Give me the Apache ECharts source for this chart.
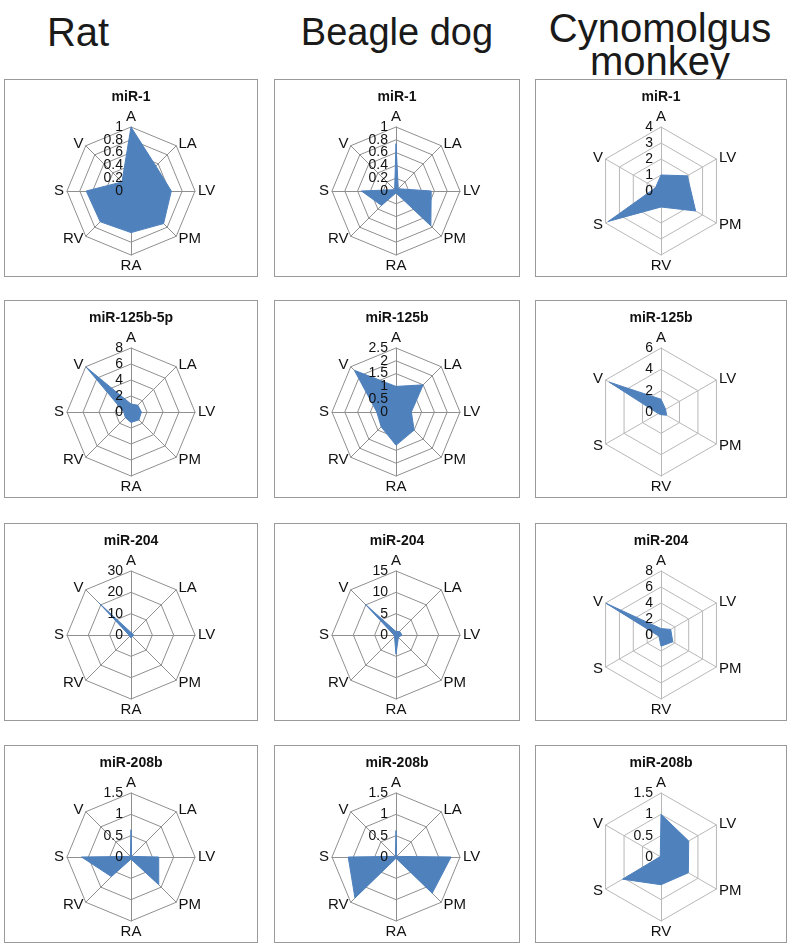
<!DOCTYPE html>
<html><head><meta charset="utf-8">
<script src="https://cdn.jsdelivr.net/npm/echarts@6/dist/echarts.min.js"></script>
<style>
html,body{margin:0;padding:0;background:#fff;width:791px;height:948px;overflow:hidden;font-family:"Liberation Sans",Arial,sans-serif;}
.hdr{position:absolute;font-size:40px;color:#1a1a1a;text-align:center;line-height:36px;}
.box{position:absolute;border:1px solid #9a9a9a;box-sizing:border-box;background:#fff;}
</style></head>
<body>
<div class="hdr" style="left:0;width:156px;top:14px;">Rat</div>
<div class="hdr" style="left:277px;width:240px;top:14px;font-size:38px;">Beagle dog</div>
<div class="hdr" style="left:530px;width:260px;top:12px;line-height:33px;">Cynomolgus<br>monkey</div>
<script>
// Data
const species = ['Rat', 'Beagle dog', 'Cynomolgus monkey'];
const axes8 = ['A', 'LA', 'LV', 'PM', 'RA', 'RV', 'S', 'V'];
const axes6 = ['A', 'LV', 'PM', 'RV', 'S', 'V'];

const ratTitles = ['miR-1', 'miR-125b-5p', 'miR-204', 'miR-208b'];
const dogTitles = ['miR-1', 'miR-125b', 'miR-204', 'miR-208b'];
const monkeyTitles = ['miR-1', 'miR-125b', 'miR-204', 'miR-208b'];

const ratMax = [1, 8, 30, 1.5];
const ratSplit = [5, 4, 3, 3];
const dogMax = [1, 2.5, 15, 1.5];
const dogSplit = [5, 5, 3, 3];
const monkeyMax = [4, 6, 8, 1.5];
const monkeySplit = [4, 3, 4, 3];

// values in clockwise order from top (axes8 / axes6)
const ratMiR1 = [1.0, 0.55, 0.63, 0.72, 0.65, 0.68, 0.70, 0.2];
const ratMiR125 = [1.0, 1.2, 1.3, 1.4, 1.3, 1.0, 0.9, 7.9];
const ratMiR204 = [1.2, 1.0, 1.2, 1.0, 1.3, 1.0, 1.0, 21];
const ratMiR208 = [0.64, 0.02, 0.65, 0.92, 0.05, 0.65, 1.16, 0.02];

const dogMiR1 = [0.74, 0.05, 0.55, 0.77, 0.03, 0.32, 0.54, 0.03];
const dogMiR125 = [1.0, 1.5, 0.6, 1.0, 1.3, 0.82, 0.75, 2.3];
const dogMiR204 = [0.8, 1.2, 1.4, 0.8, 4.5, 0.5, 0.5, 10.2];
const dogMiR208 = [0.62, 0.02, 1.29, 1.2, 0.03, 1.36, 1.12, 0.02];

const monkeyMiR1 = [1.0, 1.9, 2.5, 1.0, 3.8, 0.4];
const monkeyMiR125 = [1.2, 0.5, 0.6, 0.25, 0.3, 5.6];
const monkeyMiR204 = [0.8, 1.4, 1.7, 1.4, 0.3, 7.9];
const monkeyMiR208 = [1.0, 0.75, 0.74, 0.65, 1.04, 0.02];

const ratValues = [ratMiR1, ratMiR125, ratMiR204, ratMiR208];
const dogValues = [dogMiR1, dogMiR125, dogMiR204, dogMiR208];
const monkeyValues = [monkeyMiR1, monkeyMiR125, monkeyMiR204, monkeyMiR208];

// Layout
const colX = [4, 274, 535];
const colW = [254, 246, 252];
const rowY = [79, 300, 523, 745];
const boxH = 198;
const centers = [[126, 111], [121, 111], [125, 111]];

// ECharts lays indicators counter-clockwise: reorder to clockwise
function cw(arr) { return [arr[0]].concat(arr.slice(1).reverse()); }

const cols = [
  {axes: axes8, titles: ratTitles, max: ratMax, split: ratSplit, values: ratValues, line: '#8f8f8f'},
  {axes: axes8, titles: dogTitles, max: dogMax, split: dogSplit, values: dogValues, line: '#8f8f8f'},
  {axes: axes6, titles: monkeyTitles, max: monkeyMax, split: monkeySplit, values: monkeyValues, line: '#b8b8b8'}
];

const labelStyle = {color: '#111', fontFamily: 'Liberation Sans', fontSize: 14,
                    margin: 8, showMinLabel: true, showMaxLabel: true, hideOverlap: false};

function labelRadar(center, split, names, max, parity) {
  return {
    z: 10,
    center: center,
    radius: 64,
    startAngle: 90,
    splitNumber: split,
    shape: 'polygon',
    indicator: names.map((n, i) => {
      const o = {name: n, min: 0, max: max};
      if (i === 0) o.axisLabel = Object.assign({show: true}, labelStyle, {
        formatter: (v, idx) => (idx % 2 === parity ? String(v) : '')
      });
      return o;
    }),
    axisName: {show: false},
    axisLine: {show: false},
    splitLine: {show: false},
    splitArea: {show: false},
    axisTick: {show: false},
    axisLabel: {show: false}
  };
}

cols.forEach((col, c) => {
  for (let r = 0; r < 4; r++) {
    const div = document.createElement('div');
    div.className = 'box';
    div.style.left = colX[c] + 'px';
    div.style.top = rowY[r] + 'px';
    div.style.width = colW[c] + 'px';
    div.style.height = boxH + 'px';
    document.body.appendChild(div);
    const chart = echarts.init(div, null, {renderer: 'canvas', width: colW[c] - 2, height: boxH - 2});
    const names = cw(col.axes);
    const indicator = names.map(n => ({name: n, min: 0, max: col.max[r]}));
    chart.setOption({
      animation: false,
      title: {
        text: col.titles[r], left: 'center', top: 5,
        textStyle: {fontFamily: 'Liberation Sans', fontSize: 14, fontWeight: 'bold', color: '#111'}
      },
      radar: [{
        center: centers[c],
        radius: 64,
        startAngle: 90,
        splitNumber: col.split[r],
        indicator: indicator,
        shape: 'polygon',
        axisName: {color: '#111', fontFamily: 'Liberation Sans', fontSize: 15},
        nameGap: 3,
        axisLine: {lineStyle: {color: col.line, width: 1}},
        splitLine: {lineStyle: {color: col.line, width: 1}},
        splitArea: {show: false},
        axisTick: {show: false},
        axisLabel: {show: false}
      },
      labelRadar(centers[c], col.split[r], names, col.max[r], 0),
      labelRadar(centers[c], col.split[r], names, col.max[r], 1)],
      series: [{
        type: 'radar',
        radarIndex: 0,
        symbol: 'none',
        lineStyle: {color: '#4F81BD', width: 1},
        areaStyle: {color: '#4F81BD', opacity: 1},
        itemStyle: {color: '#4F81BD'},
        data: [{value: cw(col.values[r]), name: col.titles[r]}]
      }]
    });
  }
});
</script>
</body></html>
